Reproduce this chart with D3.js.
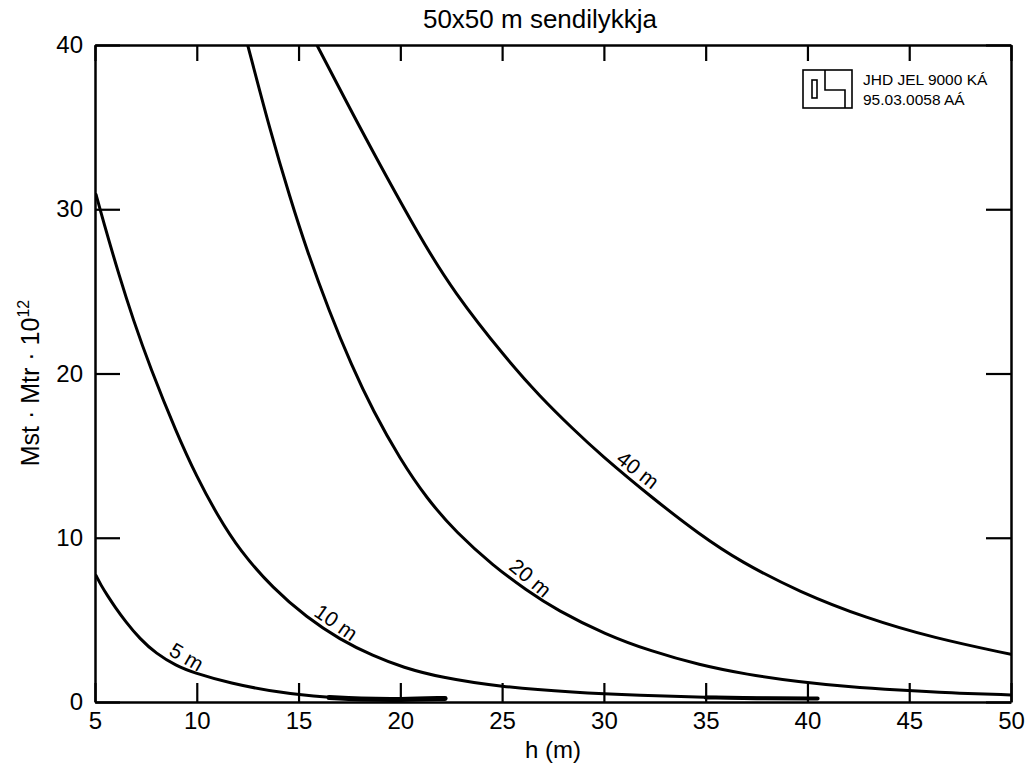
<!DOCTYPE html>
<html>
<head>
<meta charset="utf-8">
<script src="https://cdn.jsdelivr.net/npm/d3@7"></script>
<style>
  html, body { margin: 0; padding: 0; background: #fff; }
  svg { display: block; font-family: "Liberation Sans", Arial, Helvetica, sans-serif; }
</style>
</head>
<body>
<svg id="chart" width="1031" height="775"></svg>
<script>
// Height above ground h (m) and coupling Mst·Mtr·10^12 for each loop offset
const h5   = [5.05, 5.3, 5.6, 6.0, 6.5, 7.2, 8.0, 9.0, 9.8, 11.6, 14.1, 16.5, 18, 20, 22.2];
const v5   = [7.7, 7.1, 6.5, 5.75, 4.9, 3.85, 2.95, 2.2, 1.8, 1.15, 0.55, 0.27, 0.17, 0.14, 0.22];

const h10  = [5.05, 5.4, 6.2, 6.87, 7.7, 9, 10, 11, 12.12, 13.76, 15.4, 17.03, 18.67, 20.14, 21.95, 24.9, 28.5, 31.8, 35, 38, 40.5];
const v10  = [30.9, 29.3, 25.9, 23.3, 20.4, 16.4, 13.7, 11.4, 9.2, 6.9, 5.15, 3.8, 2.8, 2.1, 1.5, 0.92, 0.58, 0.4, 0.28, 0.22, 0.22];

const h20  = [12.5, 13.6, 14.58, 15.41, 16.5, 17.6, 18.67, 19.98, 21.29, 22.76, 24.56, 26.2, 27.68, 30.1, 32.3, 34.7, 37, 39.6, 42, 44.5, 47, 50];
const v20  = [40, 34.8, 30.7, 27.5, 23.8, 20.5, 17.7, 14.8, 12.4, 10.3, 8.3, 6.8, 5.6, 4.1, 3.1, 2.25, 1.68, 1.22, 0.93, 0.72, 0.55, 0.43];

const h40  = [15.9, 17.2, 18.65, 20.96, 22.6, 25.2, 26.86, 28.5, 29.8, 32.4, 34.7, 36.7, 39.6, 42.9, 46.2, 50];
const v40  = [40, 36.9, 33.5, 28.3, 25.0, 20.9, 18.6, 16.6, 15.1, 12.4, 10.2, 8.55, 6.7, 5.1, 3.9, 2.9];

const seriesNames = ["5 m", "10 m", "20 m", "40 m"];
// where along each curve (h) its name is written
const labelH = [9.2, 16.5, 26.0, 31.3];

const xTicks = [5, 10, 15, 20, 25, 30, 35, 40, 45, 50];
const yTicks = [0, 10, 20, 30, 40];

const series = [
  { name: seriesNames[0], h: h5,  v: v5,  heavy: [16.5, 22.2], heavyWidth: 5 },
  { name: seriesNames[1], h: h10, v: v10, heavy: [35, 40.5],   heavyWidth: 4 },
  { name: seriesNames[2], h: h20, v: v20, heavy: null },
  { name: seriesNames[3], h: h40, v: v40, heavy: null }
];
const labelAngle = [30, 35, 40, 38];

const svg = d3.select("#chart");
const plot = { left: 95, right: 1011, top: 45, bottom: 702 };

const x = d3.scaleLinear().domain([5, 50]).range([plot.left, plot.right]);
const y = d3.scaleLinear().domain([0, 40]).range([plot.bottom, plot.top]);

svg.append("defs").append("clipPath").attr("id", "plotClip")
  .append("rect")
  .attr("x", plot.left).attr("y", plot.top)
  .attr("width", plot.right - plot.left).attr("height", plot.bottom - plot.top);

// axes with inward ticks on all four sides
const fontSize = 24;
const bottomAxis = svg.append("g")
  .attr("transform", `translate(0,${plot.bottom})`)
  .call(d3.axisBottom(x).tickValues(xTicks).tickSizeInner(-19).tickSizeOuter(0).tickPadding(10).tickFormat(d3.format("d")));
const leftAxis = svg.append("g")
  .attr("transform", `translate(${plot.left},0)`)
  .call(d3.axisLeft(y).tickValues(yTicks).tickSizeInner(-25).tickSizeOuter(0).tickPadding(12).tickFormat(d3.format("d")));
const topAxis = svg.append("g")
  .attr("transform", `translate(0,${plot.top})`)
  .call(d3.axisTop(x).tickValues(xTicks).tickSizeInner(-16).tickSizeOuter(0).tickFormat(""));
const rightAxis = svg.append("g")
  .attr("transform", `translate(${plot.right},0)`)
  .call(d3.axisRight(y).tickValues(yTicks).tickSizeInner(-25).tickSizeOuter(0).tickFormat(""));

[bottomAxis, leftAxis, topAxis, rightAxis].forEach(g => {
  g.select(".domain").attr("stroke", "#000").attr("stroke-width", 2.5);
  g.selectAll(".tick line").attr("stroke", "#000").attr("stroke-width", 2.2);
  g.selectAll(".tick text").attr("fill", "#000").attr("font-size", fontSize)
    .attr("font-family", "'Liberation Sans', Arial, Helvetica, sans-serif");
});

// curves
const line = d3.line()
  .x(d => x(d[0]))
  .y(d => y(d[1]))
  .curve(d3.curveBasis);

const curves = svg.append("g").attr("clip-path", "url(#plotClip)");
series.forEach(s => {
  const pts = s.h.map((hv, i) => [hv, s.v[i]]);
  curves.append("path")
    .attr("d", line(pts))
    .attr("fill", "none")
    .attr("stroke", "#000")
    .attr("stroke-width", 3)
    .attr("stroke-linejoin", "round")
    .attr("stroke-linecap", "round");
  if (s.heavy) {
    const tail = pts.filter(p => p[0] >= s.heavy[0] && p[0] <= s.heavy[1]);
    curves.append("path")
      .attr("d", line(tail))
      .attr("fill", "none")
      .attr("stroke", "#000")
      .attr("stroke-width", s.heavyWidth)
      .attr("stroke-linecap", "round");
  }
});

// value of a series at h by linear interpolation between its points
function valueAt(s, hv) {
  const i = Math.max(1, d3.bisectLeft(s.h, hv));
  const t = (hv - s.h[i - 1]) / (s.h[i] - s.h[i - 1]);
  return s.v[i - 1] + t * (s.v[i] - s.v[i - 1]);
}

// curve names written just above each line
series.forEach((s, i) => {
  svg.append("text")
    .attr("transform", `translate(${x(labelH[i])},${y(valueAt(s, labelH[i]))}) rotate(${labelAngle[i]})`)
    .attr("text-anchor", "middle")
    .attr("dy", -5)
    .attr("font-size", 21)
    .attr("fill", "#000")
    .text(s.name);
});

// title and axis titles
svg.append("text")
  .attr("x", 540)
  .attr("y", 28)
  .attr("text-anchor", "middle")
  .attr("font-size", 26)
  .text("50x50 m sendilykkja");

svg.append("text")
  .attr("x", (plot.left + plot.right) / 2)
  .attr("y", 758)
  .attr("text-anchor", "middle")
  .attr("font-size", 24)
  .text("h (m)");

const yLab = svg.append("text")
  .attr("transform", `translate(39,383) rotate(-90)`)
  .attr("text-anchor", "middle")
  .attr("font-size", 25);
yLab.append("tspan").text("Mst \u00B7 Mtr \u00B7 10");
yLab.append("tspan").attr("dy", -10).attr("font-size", 16).text("12");

// stamp in upper right corner
const stamp = svg.append("g").attr("fill", "none").attr("stroke", "#000").attr("stroke-width", 1.6);
stamp.append("rect").attr("x", 803).attr("y", 70).attr("width", 49).attr("height", 38);
stamp.append("rect").attr("x", 812).attr("y", 80).attr("width", 5).attr("height", 18);
stamp.append("path").attr("d", "M825,70 V90 H845 V108");
svg.append("text").attr("x", 863).attr("y", 85).attr("font-size", 15.5).text("JHD JEL 9000 KÁ");
svg.append("text").attr("x", 863).attr("y", 105).attr("font-size", 15.5).text("95.03.0058 AÁ");
</script>
</body>
</html>
